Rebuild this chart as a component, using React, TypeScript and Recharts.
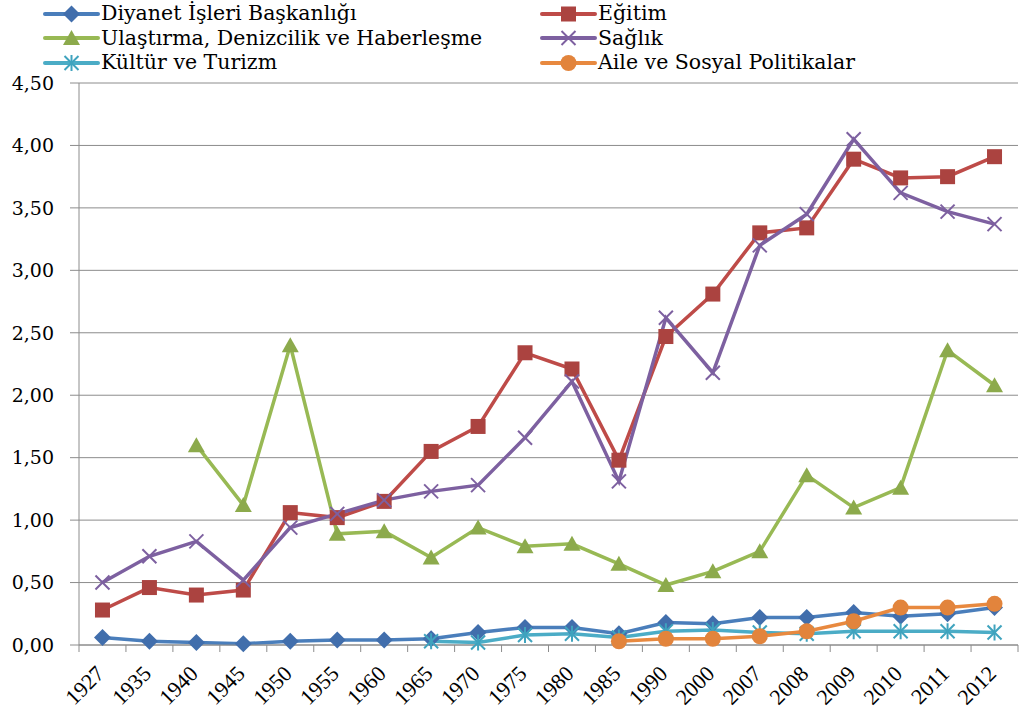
import { LineChart, Line, XAxis, YAxis, CartesianGrid, Legend } from 'recharts';

const categories = ['1927', '1935', '1940', '1945', '1950', '1955', '1960', '1965', '1970', '1975', '1980', '1985', '1990', '2000', '2007', '2008', '2009', '2010', '2011', '2012'];

const diyanet = [0.06, 0.03, 0.02, 0.01, 0.03, 0.04, 0.04, 0.05, 0.1, 0.14, 0.14, 0.09, 0.18, 0.17, 0.22, 0.22, 0.26, 0.23, 0.25, 0.3];
const egitim = [0.28, 0.46, 0.4, 0.44, 1.06, 1.02, 1.15, 1.55, 1.75, 2.34, 2.21, 1.48, 2.47, 2.81, 3.3, 3.34, 3.89, 3.74, 3.75, 3.91];
const ulastirma = [null, null, 1.6, 1.12, 2.4, 0.89, 0.91, 0.7, 0.94, 0.79, 0.81, 0.65, 0.48, 0.59, 0.75, 1.36, 1.1, 1.26, 2.36, 2.08];
const saglik = [0.5, 0.71, 0.83, 0.52, 0.94, 1.05, 1.16, 1.23, 1.28, 1.66, 2.11, 1.31, 2.62, 2.18, 3.2, 3.45, 4.05, 3.62, 3.47, 3.37];
const kultur = [null, null, null, null, null, null, null, 0.03, 0.02, 0.08, 0.09, 0.06, 0.11, 0.12, 0.1, 0.09, 0.11, 0.11, 0.11, 0.1];
const aile = [null, null, null, null, null, null, null, null, null, null, null, 0.03, 0.05, 0.05, 0.07, 0.11, 0.19, 0.3, 0.3, 0.33];

const yTicks = [0, 0.5, 1, 1.5, 2, 2.5, 3, 3.5, 4, 4.5];

const rows = categories.map((year, i) => ({
  year,
  diyanet: diyanet[i],
  egitim: egitim[i],
  ulastirma: ulastirma[i],
  saglik: saglik[i],
  kultur: kultur[i],
  aile: aile[i],
}));

const W = 1021;
const H = 712;
const PLOT_LEFT = 79;
const PLOT_RIGHT = 3;
const band = (W - PLOT_LEFT - PLOT_RIGHT) / categories.length;

const GRID = '#8c8c8c';

type Shape = 'diamond' | 'square' | 'triangle' | 'x' | 'star' | 'circle';

function Marker({ shape, cx, cy, color }: { shape: Shape; cx: number; cy: number; color: string }) {
  switch (shape) {
    case 'diamond':
      return <polygon points={`${cx},${cy - 8.5} ${cx + 8.5},${cy} ${cx},${cy + 8.5} ${cx - 8.5},${cy}`} fill={color} />;
    case 'square':
      return <rect x={cx - 7.5} y={cy - 7.5} width={15} height={15} fill={color} />;
    case 'triangle':
      return <polygon points={`${cx},${cy - 8} ${cx + 8.5},${cy + 7} ${cx - 8.5},${cy + 7}`} fill={color} />;
    case 'x':
      return (
        <g stroke={color} strokeWidth={2}>
          <line x1={cx - 7} y1={cy - 7} x2={cx + 7} y2={cy + 7} />
          <line x1={cx - 7} y1={cy + 7} x2={cx + 7} y2={cy - 7} />
        </g>
      );
    case 'star':
      return (
        <g stroke={color} strokeWidth={2}>
          <line x1={cx - 7} y1={cy - 7} x2={cx + 7} y2={cy + 7} />
          <line x1={cx - 7} y1={cy + 7} x2={cx + 7} y2={cy - 7} />
          <line x1={cx} y1={cy - 8} x2={cx} y2={cy + 8} />
        </g>
      );
    default:
      return <circle cx={cx} cy={cy} r={8} fill={color} />;
  }
}

const series: { key: string; name: string; line: string; marker: string; shape: Shape }[] = [
  { key: 'diyanet', name: 'Diyanet İşleri Başkanlığı', line: '#4A7EBB', marker: '#416EAC', shape: 'diamond' },
  { key: 'egitim', name: 'Eğitim', line: '#BE4B48', marker: '#AB4340', shape: 'square' },
  { key: 'ulastirma', name: 'Ulaştırma, Denizcilik ve Haberleşme', line: '#98B954', marker: '#8CAA4C', shape: 'triangle' },
  { key: 'saglik', name: 'Sağlık', line: '#7D60A0', marker: '#7D60A0', shape: 'x' },
  { key: 'kultur', name: 'Kültür ve Turizm', line: '#4BACC6', marker: '#3FA3BE', shape: 'star' },
  { key: 'aile', name: 'Aile ve Sosyal Politikalar', line: '#E8893F', marker: '#E2843C', shape: 'circle' },
];

function LegendBox() {
  return (
    <div style={{ position: 'relative', width: W, height: 83 }}>
      {series.map((s, i) => {
        const col = i % 2;
        const row = Math.floor(i / 2);
        return (
          <div
            key={s.key}
            style={{
              position: 'absolute',
              left: col === 0 ? 43 : 540,
              top: 1 + row * 24.5,
              height: 25,
              display: 'flex',
              alignItems: 'center',
              whiteSpace: 'nowrap',
            }}
          >
            <svg width={57} height={22}>
              <line x1={2} y1={11} x2={55} y2={11} stroke={s.line} strokeWidth={4} strokeLinecap="round" />
              <Marker shape={s.shape} cx={28.5} cy={11} color={s.marker} />
            </svg>
            <span style={{ fontFamily: '"DejaVu Serif", serif', fontSize: 20.5, lineHeight: '25px', color: '#000', marginLeft: 1 }}>{s.name}</span>
          </div>
        );
      })}
    </div>
  );
}

function XTick(props: any) {
  const { x, y, payload, index } = props;
  const last = index === categories.length - 1;
  const ax = x + 3;
  const ay = y + 30;
  return (
    <g>
      <line x1={x - band / 2} y1={y} x2={x - band / 2} y2={y + 7} stroke={GRID} />
      {last && <line x1={x + band / 2} y1={y} x2={x + band / 2} y2={y + 7} stroke={GRID} />}
      <text
        x={ax}
        y={ay}
        textAnchor="end"
        transform={`rotate(-45, ${ax}, ${ay})`}
        fontFamily='"Liberation Serif", serif'
        fontSize={22}
        fill="#000"
      >
        {payload.value}
      </text>
    </g>
  );
}

export default function App() {
  return (
    <div style={{ width: W, height: H }}>
      <style>{'body{margin:0}'}</style>
      <LineChart width={W} height={H} data={rows} margin={{ top: 0, right: PLOT_RIGHT, left: 0, bottom: 0 }}>
        <CartesianGrid vertical={false} stroke={GRID} strokeWidth={1} />
        <XAxis
          dataKey="year"
          scale="band"
          interval={0}
          height={67}
          tickSize={0}
          tickMargin={0}
          tickLine={false}
          axisLine={{ stroke: GRID }}
          tick={<XTick />}
        />
        <YAxis
          width={PLOT_LEFT}
          domain={[0, 4.5]}
          ticks={yTicks}
          interval={0}
          tickSize={9}
          tickMargin={16}
          axisLine={{ stroke: GRID }}
          tickLine={{ stroke: GRID }}
          tickFormatter={(v: number) => v.toFixed(2).replace('.', ',')}
          tick={{ fill: '#000', fontSize: 19, fontFamily: '"DejaVu Serif", serif' }}
        />
        <Legend verticalAlign="top" wrapperStyle={{ top: 0, left: 0, width: W, height: 83 }} content={() => <LegendBox />} />
        {series.map((s) => (
          <Line
            key={s.key}
            type="linear"
            dataKey={s.key}
            name={s.name}
            stroke={s.line}
            strokeWidth={3.5}
            isAnimationActive={false}
            dot={(p: any) =>
              p.cx == null || p.cy == null || p.value == null ? (
                <g key={`${s.key}-${p.index}`} />
              ) : (
                <g key={`${s.key}-${p.index}`}>
                  <Marker shape={s.shape} cx={p.cx} cy={p.cy} color={s.marker} />
                </g>
              )
            }
            activeDot={false}
          />
        ))}
      </LineChart>
    </div>
  );
}
